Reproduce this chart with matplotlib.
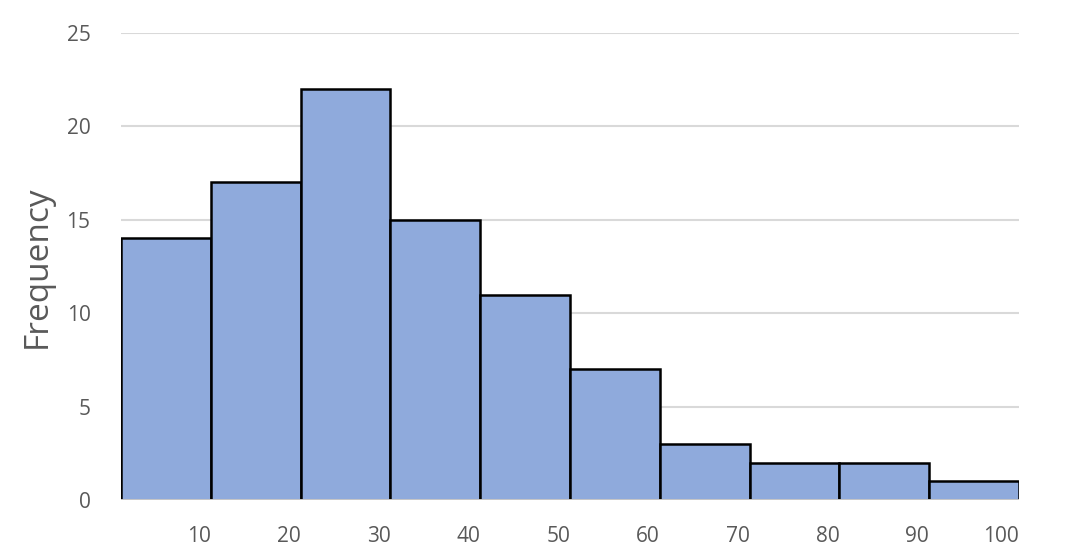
import matplotlib
matplotlib.use("Agg")
import matplotlib.pyplot as plt
import numpy as np

bin_edges = [0, 10, 20, 30, 40, 50, 60, 70, 80, 90, 100]
frequencies = [14, 17, 22, 15, 11, 7, 3, 2, 2, 1]
x_tick_labels = ["10", "20", "30", "40", "50", "60", "70", "80", "90", "100"]
y_ticks = [0, 5, 10, 15, 20, 25]

plt.rcParams['font.family'] = ['Open Sans', 'DejaVu Sans']

fig = plt.figure(figsize=(10.84, 5.55), dpi=100)
ax = fig.add_axes([121/1084, 1 - 500/555, (1019 - 121)/1084, (500 - 33)/555])

left = np.array(bin_edges[:-1])
widths = np.diff(bin_edges)
ax.bar(left, frequencies, width=widths, align='edge', color='#8FAADC',
       edgecolor='black', linewidth=1.8, zorder=2)

ax.set_xlim(bin_edges[0], bin_edges[-1])
ax.set_ylim(0, 25)
ax.set_yticks(y_ticks)
ax.set_yticklabels([str(v) for v in y_ticks])
ax.yaxis.grid(True, color='#D9D9D9', linewidth=1.5, zorder=0)
ax.set_axisbelow(True)
ax.axhline(0, color='#D9D9D9', linewidth=2, zorder=3)

ax.set_xticks(bin_edges[1:])
ax.set_xticklabels(x_tick_labels, ha='right')

for s in ax.spines.values():
    s.set_visible(False)
ax.tick_params(axis='both', length=0, labelsize=15, labelcolor='#595959')
ax.tick_params(axis='y', pad=22)
ax.tick_params(axis='x', pad=19)

ax.set_ylabel('Frequency', fontsize=24, color='#595959', labelpad=9)

fig.savefig('out.png', dpi=100)
